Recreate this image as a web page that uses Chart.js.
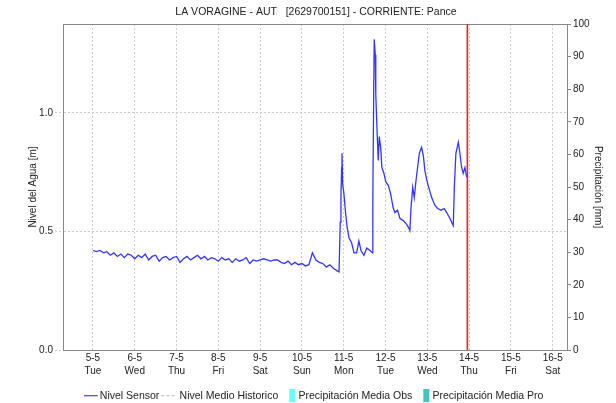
<!DOCTYPE html>
<html>
<head>
<meta charset="utf-8">
<script src="https://cdn.jsdelivr.net/npm/chart.js@4"></script>
<style>
    html, body { margin: 0; padding: 0; background: #fff; }
</style>
</head>
<body>
<canvas id="chart" width="616" height="403"></canvas>
<script>
// ejes de tiempo: horas desde 5-5 00:00
const dayHours = [0, 24, 48, 72, 96, 120, 144, 168, 192, 216, 240, 264];
const dayLabels = ["5-5", "6-5", "7-5", "8-5", "9-5", "10-5", "11-5", "12-5", "13-5", "14-5", "15-5", "16-5"];
const weekDays = ["Tue", "Wed", "Thu", "Fri", "Sat", "Sun", "Mon", "Tue", "Wed", "Thu", "Fri", "Sat"];

// nivel base, una lectura cada 2 horas (5-5 00:00 a 10-5 20:00)
const flatStep = 2;
const flatLevels = [
    0.42, 0.415, 0.42, 0.41, 0.415, 0.40, 0.41, 0.395, 0.405, 0.39, 0.405, 0.40,
    0.385, 0.40, 0.39, 0.405, 0.38, 0.395, 0.40, 0.375, 0.39, 0.395, 0.38, 0.39,
    0.395, 0.37, 0.385, 0.395, 0.38, 0.39, 0.40, 0.385, 0.395, 0.38, 0.39, 0.385,
    0.375, 0.39, 0.38, 0.385, 0.37, 0.385, 0.375, 0.38, 0.39, 0.365, 0.38, 0.375,
    0.38, 0.385, 0.38, 0.375, 0.38, 0.38, 0.37, 0.365, 0.375, 0.36, 0.37, 0.36,
    0.365, 0.355, 0.36, 0.41, 0.38, 0.37, 0.365, 0.35, 0.36, 0.345, 0.335
];

// crecientes
const eventHours = [
    141.3, 142.0, 142.4, 142.8, 143.0, 143.4, 144.1, 145.1, 146.0, 147.0, 148.5, 149.9,
    151.4, 152.7, 153.9, 155.6, 157.2, 159.1, 160.5, 160.7, 161.2, 161.5, 162.1, 162.4,
    163.1, 163.8, 164.4, 165.2, 165.9, 167.1, 168.1, 169.6, 170.9, 172.4, 173.4, 174.9,
    176.3, 178.2, 180.1, 181.0, 182.0, 182.6, 183.6, 184.5, 185.5, 186.4, 187.4, 188.7,
    189.7, 190.6, 191.6, 192.5, 194.5, 196.4, 197.9, 199.8, 201.7, 203.1, 205.0, 206.9,
    207.5, 208.4, 209.8, 210.7, 211.7, 212.6, 213.6, 214.6
];
const eventLevels = [
    0.33, 0.54, 0.65, 0.77, 0.83, 0.70, 0.66, 0.575, 0.516, 0.474, 0.453, 0.41,
    0.41, 0.46, 0.42, 0.40, 0.43, 0.42, 0.41, 0.63, 1.08, 1.31, 1.245, 1.08,
    0.93, 0.80, 0.90, 0.855, 0.77, 0.745, 0.71, 0.695, 0.66, 0.60, 0.58, 0.59,
    0.555, 0.546, 0.53, 0.52, 0.504, 0.597, 0.686, 0.643, 0.715, 0.77, 0.83, 0.855,
    0.82, 0.757, 0.72, 0.694, 0.643, 0.61, 0.597, 0.59, 0.597, 0.58, 0.555, 0.525,
    0.686, 0.83, 0.876, 0.83, 0.77, 0.745, 0.77, 0.728
];

const nowHour = 215;
const levelMax = 1.375;
const xMin = -17.2;
const xMax = 272.2;

const sensorPoints = flatLevels.map((v, i) => ({ x: i * flatStep, y: v }))
    .concat(eventHours.map((h, i) => ({ x: h, y: eventLevels[i] })));

Chart.defaults.font.family = "'Liberation Sans', Arial, sans-serif";
Chart.defaults.color = "#222";

// iconos de la leyenda (se dibujan centrados en el hueco del simbolo)
const makeIcon = (w, h, draw) => {
    const c = document.createElement("canvas");
    c.width = w;
    c.height = h;
    draw(c.getContext("2d"));
    return c;
};
const legendIcons = [
    makeIcon(16, 3, ctx => { ctx.fillStyle = "#1a1aff"; ctx.fillRect(0, 1, 14, 1); }),
    makeIcon(20, 3, ctx => {
        ctx.fillStyle = "#bbb";
        for (let i = 0; i < 15; i += 5) ctx.fillRect(i, 1, 3, 1);
    }),
    makeIcon(12, 13, ctx => { ctx.fillStyle = "#66ffff"; ctx.fillRect(5, 0, 6, 13); }),
    makeIcon(12, 13, ctx => { ctx.fillStyle = "#40c4c4"; ctx.fillRect(5, 0, 6, 13); })
];

const chart = new Chart(document.getElementById("chart"), {
    type: "line",
    data: {
        datasets: [
            {
                label: "Nivel Sensor",
                data: sensorPoints,
                borderColor: "#3535ff",
                borderWidth: 1.3,
                pointRadius: 0,
                tension: 0,
                yAxisID: "y"
            },
            {
                label: "Nivel Medio Historico",
                data: [],
                borderColor: "#bbb",
                borderDash: [2, 2],
                borderWidth: 1,
                pointRadius: 0,
                yAxisID: "y"
            },
            {
                type: "bar",
                label: "Precipitación Media Obs",
                data: [],
                backgroundColor: "#66ffff",
                yAxisID: "y2"
            },
            {
                type: "bar",
                label: "Precipitación Media Pro",
                data: [],
                backgroundColor: "#40c4c4",
                yAxisID: "y2"
            },
            {
                label: "Ahora",
                data: [{ x: nowHour, y: 0 }, { x: nowHour, y: levelMax }],
                borderColor: "#ee1c1c",
                borderWidth: 1.6,
                pointRadius: 0,
                yAxisID: "y"
            }
        ]
    },
    options: {
        responsive: false,
        animation: false,
        layout: { padding: { left: 16, right: 0, top: 0, bottom: -8 } },
        plugins: {
            title: {
                display: true,
                text: "LA VORAGINE - AUT   [2629700151] - CORRIENTE: Pance",
                font: { size: 10.5, weight: "normal" },
                color: "#222",
                padding: { top: 6, bottom: 5.4 }
            },
            legend: {
                position: "bottom",
                labels: {
                    usePointStyle: true,
                    pointStyleWidth: 6,
                    padding: 9,
                    font: { size: 10.5 },
                    color: "#222",
                    generateLabels: chart => chart.data.datasets.slice(0, 4).map((ds, i) => ({
                        text: ds.label,
                        pointStyle: legendIcons[i],
                        datasetIndex: i,
                        hidden: false,
                        fontColor: "#222",
                        lineWidth: 0,
                        strokeStyle: "rgba(0,0,0,0)",
                        fillStyle: "rgba(0,0,0,0)"
                    }))
                }
            },
            tooltip: { enabled: false }
        },
        scales: {
            x: {
                type: "linear",
                position: "bottom",
                min: xMin,
                max: xMax,
                offset: false,
                afterBuildTicks: axis => { axis.ticks = dayHours.map(v => ({ value: v })); },
                afterFit: axis => { axis.height = 31.4; },
                ticks: {
                    autoSkip: false,
                    maxRotation: 0,
                    padding: 2,
                    font: { size: 10, lineHeight: 1.3 },
                    callback: v => {
                        const i = dayHours.indexOf(v);
                        return [dayLabels[i], weekDays[i]];
                    }
                },
                grid: { color: "#ccc", drawTicks: false, offset: false },
                border: { color: "#888", dash: [2, 2] }
            },
            xTop: {
                type: "linear",
                position: "top",
                min: 0,
                max: 1,
                afterFit: axis => { axis.height = 0; },
                ticks: { display: false },
                grid: { display: false, drawTicks: false },
                border: { color: "#888" }
            },
            y: {
                position: "left",
                min: 0,
                max: levelMax,
                afterFit: axis => { axis.width = 47; },
                ticks: {
                    stepSize: 0.5,
                    includeBounds: false,
                    padding: 2,
                    font: { size: 10 },
                    callback: v => v.toFixed(1)
                },
                grid: { color: "#ccc", tickLength: 8, tickColor: "#ccc", tickBorderDash: [2, 2] },
                border: { color: "#888", dash: [2, 2] },
                title: {
                    display: true,
                    text: "Nivel del Agua [m]",
                    font: { size: 10 },
                    color: "#222",
                    padding: { top: 11, bottom: 0 }
                }
            },
            y2: {
                position: "right",
                min: 0,
                max: 100,
                afterFit: axis => { axis.width = 49; },
                ticks: { stepSize: 10, padding: 2, font: { size: 10 } },
                grid: { drawOnChartArea: false, tickLength: 4, tickColor: "#888" },
                border: { color: "#888" },
                title: {
                    display: true,
                    text: "Precipitación [mm]",
                    font: { size: 10 },
                    color: "#222",
                    padding: { top: 12, bottom: 0 }
                }
            }
        }
    }
});
</script>
</body>
</html>
